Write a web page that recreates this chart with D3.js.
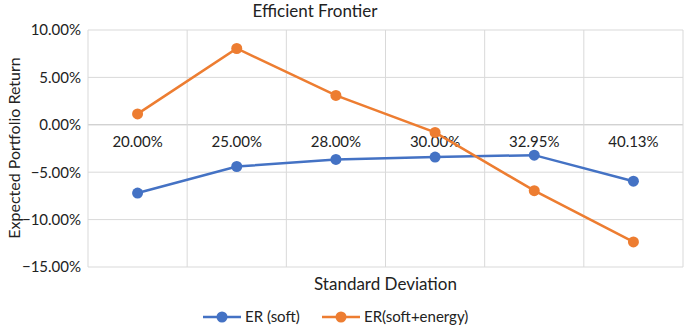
<!DOCTYPE html>
<html>
<head>
<meta charset="utf-8">
<script src="https://cdn.jsdelivr.net/npm/d3@7"></script>
<style>
  body { margin: 0; background: #fff; }
  text { font-family: Lato, "Open Sans", sans-serif; fill: #222; }
</style>
</head>
<body>
<div id="chart"></div>
<script>
// dados
const categories = ["20.00%", "25.00%", "28.00%", "30.00%", "32.95%", "40.13%"];
const erSoft = [-7.2, -4.4, -3.65, -3.4, -3.2, -5.95];
const erSoftEnergy = [1.15, 8.05, 3.1, -0.8, -6.95, -12.35];
const yTicks = [10, 5, 0, -5, -10, -15];
const seriesNames = ["ER (soft)", "ER(soft+energy)"];
const colors = ["#4472c4", "#ed7d31"];

const W = 685, H = 327;
const margin = { top: 30, left: 88, right: 2, bottom: 60 };
const width = W - margin.left - margin.right;
const height = H - margin.top - margin.bottom;

const svg = d3.select("#chart")
  .append("svg")
  .attr("width", W)
  .attr("height", H);

const g = svg.append("g")
  .attr("transform", `translate(${margin.left}, ${margin.top})`);

const xScale = d3.scaleBand()
  .domain(categories)
  .range([0, width]);

const yScale = d3.scaleLinear()
  .domain([-15, 10])
  .range([height, 0]);

// grade horizontal
g.selectAll(".hgrid")
  .data(yTicks)
  .join("line")
  .attr("x1", 0)
  .attr("x2", width)
  .attr("y1", d => yScale(d))
  .attr("y2", d => yScale(d))
  .attr("stroke", d => d === 0 ? "#bfbfbf" : "#d9d9d9")
  .attr("stroke-width", 1);

// grade vertical
const vlines = categories.map(c => xScale(c)).concat([width]);
g.selectAll(".vgrid")
  .data(vlines)
  .join("line")
  .attr("x1", d => d)
  .attr("x2", d => d)
  .attr("y1", 0)
  .attr("y2", height)
  .attr("stroke", "#d9d9d9")
  .attr("stroke-width", 1);

// eixo y
const yAxis = g.append("g")
  .call(d3.axisLeft(yScale).tickValues(yTicks).tickFormat(d => d3.format(".2f")(d) + "%").tickSize(0).tickPadding(7));
yAxis.select(".domain").remove();
yAxis.selectAll("text").style("font-size", "15px").style("font-family", "Lato, sans-serif").attr("fill", "#222");

// eixo x cruzando no zero
const xAxis = g.append("g")
  .attr("transform", `translate(0, ${yScale(0)})`)
  .call(d3.axisBottom(xScale).tickSize(0).tickPadding(12));
xAxis.select(".domain").remove();
xAxis.selectAll("text").style("font-size", "15px").style("font-family", "Lato, sans-serif").attr("fill", "#222");

// linhas
const line = d3.line()
  .x((d, i) => xScale(categories[i]) + xScale.bandwidth() / 2)
  .y(d => yScale(d));

[erSoft, erSoftEnergy].forEach((serie, k) => {
  g.append("path")
    .datum(serie)
    .attr("fill", "none")
    .attr("stroke", colors[k])
    .attr("stroke-width", 2.5)
    .attr("d", line);
  g.selectAll(".dot" + k)
    .data(serie)
    .join("circle")
    .attr("cx", (d, i) => xScale(categories[i]) + xScale.bandwidth() / 2)
    .attr("cy", d => yScale(d))
    .attr("r", 5.5)
    .attr("fill", colors[k]);
});

// titulos
svg.append("text")
  .attr("x", 315)
  .attr("y", 17)
  .attr("text-anchor", "middle")
  .style("font-size", "17px")
  .text("Efficient Frontier");

svg.append("text")
  .attr("x", margin.left + width / 2)
  .attr("y", 290)
  .attr("text-anchor", "middle")
  .style("font-size", "17px")
  .text("Standard Deviation");

svg.append("text")
  .attr("transform", `translate(20, 148) rotate(-90)`)
  .attr("text-anchor", "middle")
  .style("font-size", "16px")
  .text("Expected Portfolio Return");

// legenda
const legendX = [203, 322];
seriesNames.forEach((name, k) => {
  const lg = svg.append("g").attr("transform", `translate(${legendX[k]}, 317)`);
  lg.append("line")
    .attr("x1", 0).attr("x2", 38)
    .attr("y1", 0).attr("y2", 0)
    .attr("stroke", colors[k])
    .attr("stroke-width", 2.5);
  lg.append("circle")
    .attr("cx", 19).attr("cy", 0).attr("r", 5.5)
    .attr("fill", colors[k]);
  lg.append("text")
    .attr("x", 42)
    .attr("y", 5)
    .style("font-size", "15px")
    .text(name);
});
</script>
</body>
</html>
